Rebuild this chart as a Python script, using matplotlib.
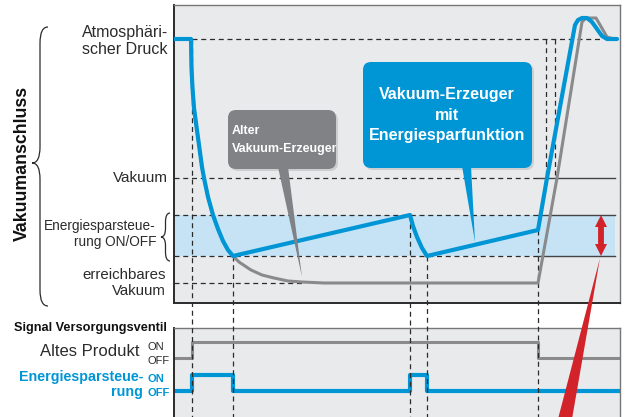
import matplotlib
matplotlib.use("Agg")
import matplotlib.pyplot as plt
from matplotlib.patches import FancyBboxPatch, Polygon, PathPatch
from matplotlib.path import Path

# pressure levels at the vacuum port (arbitrary units, atmospheric on top)
P_ATM = 264
P_VAC = 125
P_ECO_HI = 88
P_ECO_LO = 47
P_MIN = 20

# old vacuum generator: pressure over time
gray_t = [0, 17, 17.5, 18.5, 20, 22, 25, 28, 30, 34, 39, 44, 49, 54, 59,
          65, 71, 77, 88, 100, 114, 128, 150,
          364, 383, 408, 412, 422, 429, 433, 440]
gray_p = [264, 264, 235, 215, 195, 180, 158, 136, 125, 106, 88, 74, 62, 53, 47,
          41, 37, 33, 28, 25, 22, 21, 20,
          20, 125, 281, 285, 285, 273, 266, 264]

# vacuum generator with energy saving function
eco_t = [0, 17, 17.5, 18.5, 20, 22, 25, 28, 30, 34, 39, 44, 49, 54, 59,
         236, 239, 243, 248, 253,
         364, 373, 401, 404, 408, 413, 418, 423, 428, 433, 443]
eco_p = [264, 264, 235, 215, 195, 180, 158, 136, 125, 106, 88, 74, 62, 53, 47,
         88, 77, 66, 55, 47,
         73, 125, 278, 283, 285, 285, 281, 274, 267, 264, 264]

# supply valve signals (0 = OFF, 1 = ON)
old_sig_t = [0, 18, 364, 446]
old_sig = [0, 1, 0, 0]
eco_sig_t = [0, 18, 59, 236, 253, 446]
eco_sig = [0, 1, 0, 1, 0, 0]

# switching instants marked with dashed lines, and where they start
mark_t = [18, 59, 236, 253, 364]
mark_p = [264, 47, 88, 47, 73]
cross_t = [372, 381]

BG = "#e9eaec"
BLUE = "#0096d6"
BAND = "#c6e3f5"
GRAY = "#8a8a8c"
BOXGRAY = "#808285"
RED = "#d2232a"
DARK = "#2b2b2b"

plt.rcParams["font.family"] = ["Liberation Sans", "DejaVu Sans"]
BOLD = dict(weight="bold")

fig = plt.figure(figsize=(6.27, 4.17), dpi=100)
ax = fig.add_axes([174 / 627, 1 - 303 / 417, 446 / 627, 298 / 417])
bx = fig.add_axes([174 / 627, 0, 446 / 627, 89 / 417])
ax.set_zorder(3)

for a in (ax, bx):
    a.set_facecolor(BG)
    a.set_xlim(0, 446)
    a.set_xticks([])
    a.set_yticks([])
    for s in a.spines.values():
        s.set_color("#777777")
        s.set_linewidth(1.0)
    a.spines["left"].set_color(DARK)
    a.spines["left"].set_linewidth(1.4)
ax.set_ylim(0, 298)
ax.spines["bottom"].set_color(DARK)
ax.spines["bottom"].set_linewidth(1.4)
bx.set_ylim(0, 89)
bx.spines["bottom"].set_visible(False)

dash = dict(color=DARK, lw=0.9, dashes=(4, 3))

# energy saving band
ax.axhspan(P_ECO_LO, P_ECO_HI, xmin=0, xmax=441 / 446, color=BAND, lw=0, zorder=0)

# horizontal reference levels
ax.plot([18, 428], [P_ATM, P_ATM], **dash)
for lvl in (P_VAC, P_ECO_HI, P_ECO_LO):
    ax.plot([0, 364], [lvl, lvl], **dash)
    ax.plot([364, 441], [lvl, lvl], color="#444444", lw=1.0)
ax.plot([0, 128], [P_MIN, P_MIN], **dash)

# vertical marks running down through the signal panel
for t, p in zip(mark_t, mark_p):
    ax.plot([t, t], [p, -120], clip_on=False, **dash)
for t in cross_t:
    ax.plot([t, t], [P_ATM, P_VAC + 3], **dash)

# pressure curves
ax.plot(gray_t, gray_p, color=GRAY, lw=2.2, solid_joinstyle="round",
        solid_capstyle="round", zorder=4)
ax.plot(eco_t, eco_p, color=BLUE, lw=3.0, solid_joinstyle="round",
        solid_capstyle="round", zorder=5)

# valve signals
bx.step(old_sig_t, [59 + 16 * s for s in old_sig], where="post", color=GRAY, lw=2.2)
bx.step(eco_sig_t, [26 + 16 * s for s in eco_sig], where="post", color=BLUE, lw=3.0)


# callouts
def callout(x0, y0, w, h, color, pointer):
    shadow = FancyBboxPatch((x0 + 2, y0 - 2), w, h, boxstyle="round,pad=0,rounding_size=8",
                            fc="#9a9a9a", ec="none", alpha=0.35, zorder=6)
    box = FancyBboxPatch((x0, y0), w, h, boxstyle="round,pad=0,rounding_size=8",
                         fc=color, ec="none", zorder=7)
    ax.add_patch(shadow)
    ax.add_patch(box)
    ax.add_patch(Polygon(pointer, closed=True, fc=color, ec="none", zorder=7))


callout(54, 134, 108, 59, BOXGRAY, [(104, 136), (114, 136), (128, 26)])
ax.text(58, 163, "Alter\nVakuum-Erzeuger", color="white", fontsize=9,
        ha="left", va="center", linespacing=1.6, zorder=8, **BOLD)

callout(189, 135, 169, 106, BLUE, [(288, 137), (297, 137), (301, 61)])
ax.text(273, 188, "Vakuum-Erzeuger\nmit\nEnergiesparfunktion", color="white",
        fontsize=11.5, ha="center", va="center", linespacing=1.45, zorder=8, **BOLD)

# red range arrow (shaft + two heads) and its pointer
ax.plot([427, 427], [P_ECO_LO + 7, P_ECO_HI - 7], color=RED, lw=4.2,
        solid_capstyle="butt", zorder=8)
ax.plot([427], [P_ECO_HI - 6], marker="^", ms=9, color=RED, mew=0, zorder=8)
ax.plot([427], [P_ECO_LO + 6], marker="v", ms=9, color=RED, mew=0, zorder=8)
ax.add_patch(Polygon([(426, 45), (384, -116), (398, -116)], closed=True, fc=RED,
                     ec="none", clip_on=False, zorder=8))

# level labels
lab = dict(ha="right", va="center", color=DARK, clip_on=False,
           multialignment="right", linespacing=1.15)
ax.text(-6, 262, "Atmosphäri-\nscher Druck", fontsize=11.5, **lab)
ax.text(-6, P_VAC, "Vakuum", fontsize=11, **lab)
ax.text(-18, 69, "Energiesparsteue-\nrung ON/OFF", fontsize=9.8, **lab)
ax.text(-8, P_MIN, "erreichbares\nVakuum", fontsize=10.8, **lab)


def brace(a, x_tip, x_end, top, bot, mid, **kw):
    xs = (x_tip + x_end) / 2
    r = (x_end - x_tip) / 2
    verts = [(x_end, top), (xs, top), (xs, top - r * 2),
             (xs, mid + r * 2), (xs, mid), (x_tip, mid),
             (xs, mid), (xs, mid - r * 2),
             (xs, bot + r * 2), (xs, bot), (x_end, bot)]
    codes = [Path.MOVETO, Path.CURVE3, Path.CURVE3,
             Path.LINETO, Path.CURVE3, Path.CURVE3,
             Path.CURVE3, Path.CURVE3,
             Path.LINETO, Path.CURVE3, Path.CURVE3]
    a.add_patch(PathPatch(Path(verts, codes), fc="none", clip_on=False, **kw))


brace(ax, -13, -4, 90, 42, 66, ec=DARK, lw=0.9)
brace(ax, -142, -126, 276, -3, 140, ec=DARK, lw=0.9)
ax.text(-152, 140, "Vakuumanschluss", rotation=90, ha="center", va="center",
        fontsize=12.8, color="#111111", clip_on=False, **BOLD)

# signal labels
ax.text(-7, -25, "Signal Versorgungsventil", ha="right", va="center", fontsize=9.2,
        color="#111111", clip_on=False, **BOLD)
bx.text(-34, 65, "Altes Produkt", ha="right", va="center", fontsize=12, color=DARK,
        clip_on=False)
bx.text(-26, 70, "ON", ha="left", va="center", fontsize=8, color=DARK, clip_on=False)
bx.text(-26, 56, "OFF", ha="left", va="center", fontsize=8, color=DARK, clip_on=False)
bx.text(-31, 40, "Energiesparsteue-", ha="right", va="center", fontsize=10.3,
        color=BLUE, clip_on=False, **BOLD)
bx.text(-31, 25, "rung", ha="right", va="center", fontsize=10.3, color=BLUE,
        clip_on=False, **BOLD)
bx.text(-26, 38, "ON", ha="left", va="center", fontsize=8, color=BLUE, clip_on=False,
        **BOLD)
bx.text(-26, 24, "OFF", ha="left", va="center", fontsize=8, color=BLUE, clip_on=False,
        **BOLD)

fig.savefig("out.png", dpi=100)
